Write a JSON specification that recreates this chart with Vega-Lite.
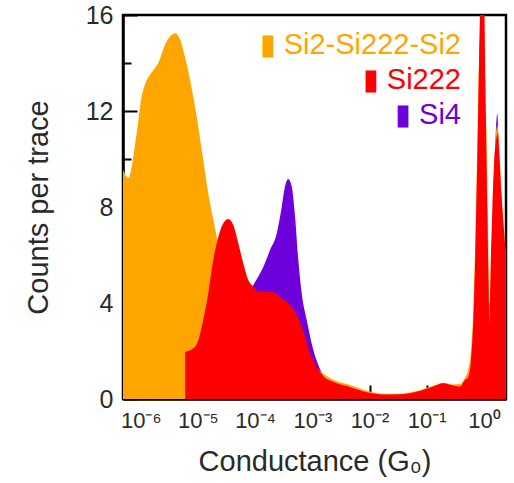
{
  "$schema": "https://vega.github.io/schema/vega-lite/v6.json",
  "width": 383,
  "height": 384,
  "autosize": "none",
  "padding": {"left": 123, "top": 15, "right": 8, "bottom": 84},
  "background": "white",
  "config": {
    "font": "Liberation Sans",
    "view": {"stroke": "black", "strokeWidth": 2.5},
    "axis": {"grid": false}
  },
  "datasets": {
    "si4": [
      {"series": "Si4", "G": 4.6e-7, "count": 0.5},
      {"series": "Si4", "G": 2e-6, "count": 0.5},
      {"series": "Si4", "G": 6e-6, "count": 0.8},
      {"series": "Si4", "G": 1.02e-5, "count": 1.2},
      {"series": "Si4", "G": 1.52e-5, "count": 1.8},
      {"series": "Si4", "G": 2.28e-5, "count": 2.5},
      {"series": "Si4", "G": 3.4e-5, "count": 3.2},
      {"series": "Si4", "G": 5.08e-5, "count": 3.9},
      {"series": "Si4", "G": 7.6e-5, "count": 4.4},
      {"series": "Si4", "G": 9.31e-5, "count": 4.75},
      {"series": "Si4", "G": 1.39e-4, "count": 5.5},
      {"series": "Si4", "G": 1.82e-4, "count": 6.2},
      {"series": "Si4", "G": 2.39e-4, "count": 6.9},
      {"series": "Si4", "G": 2.92e-4, "count": 8.0},
      {"series": "Si4", "G": 3.33e-4, "count": 8.85},
      {"series": "Si4", "G": 3.8e-4, "count": 9.17},
      {"series": "Si4", "G": 4.37e-4, "count": 8.85},
      {"series": "Si4", "G": 4.99e-4, "count": 7.6},
      {"series": "Si4", "G": 5.69e-4, "count": 5.8},
      {"series": "Si4", "G": 6.53e-4, "count": 4.4},
      {"series": "Si4", "G": 7.98e-4, "count": 3.3},
      {"series": "Si4", "G": 9.77e-4, "count": 2.3},
      {"series": "Si4", "G": 1.19e-3, "count": 1.6},
      {"series": "Si4", "G": 1.56e-3, "count": 1.0},
      {"series": "Si4", "G": 2.33e-3, "count": 0.7},
      {"series": "Si4", "G": 4.56e-3, "count": 0.45},
      {"series": "Si4", "G": 8.93e-3, "count": 0.25},
      {"series": "Si4", "G": 1.74e-2, "count": 0.15},
      {"series": "Si4", "G": 3.41e-2, "count": 0.15},
      {"series": "Si4", "G": 6.68e-2, "count": 0.25},
      {"series": "Si4", "G": 0.13, "count": 0.45},
      {"series": "Si4", "G": 0.195, "count": 0.6},
      {"series": "Si4", "G": 0.292, "count": 0.5},
      {"series": "Si4", "G": 0.382, "count": 0.5},
      {"series": "Si4", "G": 0.468, "count": 0.7},
      {"series": "Si4", "G": 0.594, "count": 1.5},
      {"series": "Si4", "G": 0.713, "count": 5},
      {"series": "Si4", "G": 0.82, "count": 12},
      {"series": "Si4", "G": 0.946, "count": 14},
      {"series": "Si4", "G": 1.088, "count": 10},
      {"series": "Si4", "G": 1.247, "count": 3.0},
      {"series": "Si4", "G": 1.403, "count": 7},
      {"series": "Si4", "G": 1.531, "count": 9.8},
      {"series": "Si4", "G": 1.71, "count": 11.9},
      {"series": "Si4", "G": 1.874, "count": 9.0},
      {"series": "Si4", "G": 2.07, "count": 7},
      {"series": "Si4", "G": 2.43, "count": 5},
      {"series": "Si4", "G": 2.64, "count": 4.5}
    ],
    "si2": [
      {"series": "Si2-Si222-Si2", "G": 4.5e-7, "count": 9.8},
      {"series": "Si2-Si222-Si2", "G": 4.91e-7, "count": 9.55},
      {"series": "Si2-Si222-Si2", "G": 6.07e-7, "count": 9.2},
      {"series": "Si2-Si222-Si2", "G": 8.51e-7, "count": 11.07},
      {"series": "Si2-Si222-Si2", "G": 1.04e-6, "count": 12.6},
      {"series": "Si2-Si222-Si2", "G": 1.19e-6, "count": 13.1},
      {"series": "Si2-Si222-Si2", "G": 1.66e-6, "count": 13.7},
      {"series": "Si2-Si222-Si2", "G": 2.03e-6, "count": 14.0},
      {"series": "Si2-Si222-Si2", "G": 2.66e-6, "count": 14.75},
      {"series": "Si2-Si222-Si2", "G": 3.25e-6, "count": 15.1},
      {"series": "Si2-Si222-Si2", "G": 3.98e-6, "count": 15.24},
      {"series": "Si2-Si222-Si2", "G": 4.86e-6, "count": 15.0},
      {"series": "Si2-Si222-Si2", "G": 5.94e-6, "count": 14.26},
      {"series": "Si2-Si222-Si2", "G": 7.28e-6, "count": 13.3},
      {"series": "Si2-Si222-Si2", "G": 9.53e-6, "count": 11.76},
      {"series": "Si2-Si222-Si2", "G": 1.24e-5, "count": 9.96},
      {"series": "Si2-Si222-Si2", "G": 1.52e-5, "count": 8.57},
      {"series": "Si2-Si222-Si2", "G": 1.86e-5, "count": 7.46},
      {"series": "Si2-Si222-Si2", "G": 2.13e-5, "count": 6.76},
      {"series": "Si2-Si222-Si2", "G": 2.61e-5, "count": 5.8},
      {"series": "Si2-Si222-Si2", "G": 3.4e-5, "count": 4.6},
      {"series": "Si2-Si222-Si2", "G": 5.08e-5, "count": 3.2},
      {"series": "Si2-Si222-Si2", "G": 7.6e-5, "count": 2.5},
      {"series": "Si2-Si222-Si2", "G": 1.6e-4, "count": 2.0},
      {"series": "Si2-Si222-Si2", "G": 3.8e-4, "count": 1.8},
      {"series": "Si2-Si222-Si2", "G": 7.45e-4, "count": 1.6},
      {"series": "Si2-Si222-Si2", "G": 1.19e-3, "count": 1.3},
      {"series": "Si2-Si222-Si2", "G": 1.56e-3, "count": 1.05},
      {"series": "Si2-Si222-Si2", "G": 2.33e-3, "count": 0.8},
      {"series": "Si2-Si222-Si2", "G": 4.56e-3, "count": 0.58},
      {"series": "Si2-Si222-Si2", "G": 8.93e-3, "count": 0.34},
      {"series": "Si2-Si222-Si2", "G": 1.74e-2, "count": 0.22},
      {"series": "Si2-Si222-Si2", "G": 3.41e-2, "count": 0.22},
      {"series": "Si2-Si222-Si2", "G": 6.68e-2, "count": 0.33},
      {"series": "Si2-Si222-Si2", "G": 0.13, "count": 0.55},
      {"series": "Si2-Si222-Si2", "G": 0.195, "count": 0.68},
      {"series": "Si2-Si222-Si2", "G": 0.292, "count": 0.6},
      {"series": "Si2-Si222-Si2", "G": 0.382, "count": 0.62},
      {"series": "Si2-Si222-Si2", "G": 0.468, "count": 0.9},
      {"series": "Si2-Si222-Si2", "G": 0.527, "count": 1.2},
      {"series": "Si2-Si222-Si2", "G": 0.594, "count": 2.0},
      {"series": "Si2-Si222-Si2", "G": 0.658, "count": 4},
      {"series": "Si2-Si222-Si2", "G": 0.713, "count": 7},
      {"series": "Si2-Si222-Si2", "G": 0.773, "count": 11},
      {"series": "Si2-Si222-Si2", "G": 0.82, "count": 14},
      {"series": "Si2-Si222-Si2", "G": 0.889, "count": 15.5},
      {"series": "Si2-Si222-Si2", "G": 0.966, "count": 15},
      {"series": "Si2-Si222-Si2", "G": 1.045, "count": 13.5},
      {"series": "Si2-Si222-Si2", "G": 1.109, "count": 11},
      {"series": "Si2-Si222-Si2", "G": 1.18, "count": 7},
      {"series": "Si2-Si222-Si2", "G": 1.253, "count": 4.0},
      {"series": "Si2-Si222-Si2", "G": 1.321, "count": 4.6},
      {"series": "Si2-Si222-Si2", "G": 1.432, "count": 8.0},
      {"series": "Si2-Si222-Si2", "G": 1.552, "count": 10.3},
      {"series": "Si2-Si222-Si2", "G": 1.71, "count": 11.4},
      {"series": "Si2-Si222-Si2", "G": 1.874, "count": 10.3},
      {"series": "Si2-Si222-Si2", "G": 2.03, "count": 8.5},
      {"series": "Si2-Si222-Si2", "G": 2.245, "count": 7},
      {"series": "Si2-Si222-Si2", "G": 2.43, "count": 6},
      {"series": "Si2-Si222-Si2", "G": 2.64, "count": 5.5}
    ],
    "si222": [
      {"series": "Si222", "G": 6.0e-6, "count": 1.97},
      {"series": "Si222", "G": 8.32e-6, "count": 2.11},
      {"series": "Si222", "G": 1.02e-5, "count": 2.46},
      {"series": "Si222", "G": 1.24e-5, "count": 3.3},
      {"series": "Si222", "G": 1.52e-5, "count": 4.4},
      {"series": "Si222", "G": 1.86e-5, "count": 5.8},
      {"series": "Si222", "G": 2.28e-5, "count": 6.76},
      {"series": "Si222", "G": 2.78e-5, "count": 7.32},
      {"series": "Si222", "G": 3.4e-5, "count": 7.5},
      {"series": "Si222", "G": 4.16e-5, "count": 7.25},
      {"series": "Si222", "G": 5.08e-5, "count": 6.5},
      {"series": "Si222", "G": 6.22e-5, "count": 5.65},
      {"series": "Si222", "G": 7.6e-5, "count": 4.96},
      {"series": "Si222", "G": 9.31e-5, "count": 4.68},
      {"series": "Si222", "G": 1.14e-4, "count": 4.47},
      {"series": "Si222", "G": 1.6e-4, "count": 4.47},
      {"series": "Si222", "G": 2.23e-4, "count": 4.43},
      {"series": "Si222", "G": 2.92e-4, "count": 4.2},
      {"series": "Si222", "G": 3.8e-4, "count": 3.99},
      {"series": "Si222", "G": 4.99e-4, "count": 3.64},
      {"series": "Si222", "G": 6.1e-4, "count": 3.22},
      {"series": "Si222", "G": 7.45e-4, "count": 2.6},
      {"series": "Si222", "G": 9.12e-4, "count": 1.9},
      {"series": "Si222", "G": 1.19e-3, "count": 1.35},
      {"series": "Si222", "G": 1.56e-3, "count": 0.95},
      {"series": "Si222", "G": 2.33e-3, "count": 0.72},
      {"series": "Si222", "G": 4.56e-3, "count": 0.5},
      {"series": "Si222", "G": 8.93e-3, "count": 0.28},
      {"series": "Si222", "G": 1.74e-2, "count": 0.19},
      {"series": "Si222", "G": 3.41e-2, "count": 0.2},
      {"series": "Si222", "G": 6.68e-2, "count": 0.3},
      {"series": "Si222", "G": 0.13, "count": 0.52},
      {"series": "Si222", "G": 0.195, "count": 0.66},
      {"series": "Si222", "G": 0.292, "count": 0.56},
      {"series": "Si222", "G": 0.382, "count": 0.52},
      {"series": "Si222", "G": 0.468, "count": 0.8},
      {"series": "Si222", "G": 0.527, "count": 0.9},
      {"series": "Si222", "G": 0.594, "count": 1.6},
      {"series": "Si222", "G": 0.658, "count": 3.5},
      {"series": "Si222", "G": 0.713, "count": 6.5},
      {"series": "Si222", "G": 0.773, "count": 10.5},
      {"series": "Si222", "G": 0.82, "count": 14},
      {"series": "Si222", "G": 0.873, "count": 17},
      {"series": "Si222", "G": 0.946, "count": 18},
      {"series": "Si222", "G": 1.005, "count": 17},
      {"series": "Si222", "G": 1.075, "count": 12},
      {"series": "Si222", "G": 1.146, "count": 7.9},
      {"series": "Si222", "G": 1.213, "count": 4.4},
      {"series": "Si222", "G": 1.247, "count": 3.2},
      {"series": "Si222", "G": 1.294, "count": 5.0},
      {"series": "Si222", "G": 1.403, "count": 7.9},
      {"series": "Si222", "G": 1.521, "count": 10},
      {"series": "Si222", "G": 1.66, "count": 10.9},
      {"series": "Si222", "G": 1.742, "count": 11.07},
      {"series": "Si222", "G": 1.874, "count": 10},
      {"series": "Si222", "G": 2.03, "count": 8.5},
      {"series": "Si222", "G": 2.245, "count": 7},
      {"series": "Si222", "G": 2.43, "count": 6},
      {"series": "Si222", "G": 2.64, "count": 5.5}
    ]
  },
  "encoding": {
    "x": {
      "field": "G",
      "type": "quantitative",
      "scale": {"type": "log", "domain": [4.91e-7, 2.43], "nice": false},
      "axis": {
        "values": [1e-6, 1e-5, 1e-4, 1e-3, 1e-2, 1e-1, 1],
        "labelExpr": "['10⁻⁶','10⁻⁵','10⁻⁴','10⁻³','10⁻²','10⁻¹','10⁰'][round(log(datum.value)/LN10)+6]",
        "tickSize": -14,
        "tickWidth": 2,
        "tickColor": "black",
        "domainColor": "black",
        "domainWidth": 2.5,
        "labelFontSize": 22,
        "labelColor": "#2a2a2a",
        "labelPadding": 25,
        "labelDx": 5,
        "labelFlush": false,
        "labelOverlap": false,
        "title": "Conductance (G₀)",
        "titleFontSize": 29,
        "titleFontWeight": "normal",
        "titleColor": "#2a2a2a",
        "titlePadding": 16
      }
    },
    "color": {
      "field": "series",
      "type": "nominal",
      "scale": {"domain": ["Si2-Si222-Si2", "Si222", "Si4"], "range": ["#FFA500", "#FF0000", "#6E00DC"]},
      "legend": {
        "orient": "none",
        "legendX": 309,
        "legendY": 15,
        "title": null,
        "padding": 0,
        "symbolOpacity": 0,
        "symbolSize": 1,
        "symbolStrokeWidth": 0,
        "labelAlign": "right",
        "labelOffset": 0,
        "labelFontSize": 29,
        "labelFont": "Liberation Sans",
        "labelLimit": 500,
        "labelExpr": "'▮ ' + datum.label",
        "rowPadding": 5,
        "encode": {"labels": {"update": {"fill": {"scale": "color", "field": "value"}}}}
      }
    }
  },
  "layer": [
    {
      "data": {"name": "si4"},
      "mark": {"type": "area", "interpolate": "monotone", "clip": true},
      "encoding": {
        "y": {
          "field": "count",
          "type": "quantitative",
          "stack": null,
          "scale": {"domain": [0, 16], "nice": false},
          "axis": {
            "values": [0, 4, 8, 12, 16],
            "tickSize": -14,
            "tickWidth": 2,
            "tickColor": "black",
            "domainColor": "black",
            "domainWidth": 2.5,
            "labelFontSize": 25,
            "labelColor": "#2a2a2a",
            "labelPadding": 24,
            "labelFlush": false,
            "title": "Counts per trace",
            "titleFontSize": 29,
            "titleFontWeight": "normal",
            "titleColor": "#2a2a2a",
            "titlePadding": 32
          }
        }
      }
    },
    {
      "data": {"name": "si2"},
      "mark": {"type": "area", "interpolate": "monotone", "clip": true},
      "encoding": {
        "y": {
          "field": "count",
          "type": "quantitative",
          "stack": null,
          "scale": {"domain": [0, 16], "nice": false},
          "axis": {
            "orient": "left",
            "offset": 0,
            "values": [2, 6, 10, 14],
            "tickSize": -8,
            "tickWidth": 2,
            "tickColor": "black",
            "labels": false,
            "domain": false,
            "title": null
          }
        }
      }
    },
    {
      "data": {"name": "si222"},
      "mark": {"type": "area", "interpolate": "monotone", "clip": true},
      "encoding": {
        "y": {
          "field": "count",
          "type": "quantitative",
          "stack": null,
          "scale": {"domain": [0, 16], "nice": false},
          "axis": null
        }
      }
    }
  ],
  "resolve": {"axis": {"y": "independent"}}
}
